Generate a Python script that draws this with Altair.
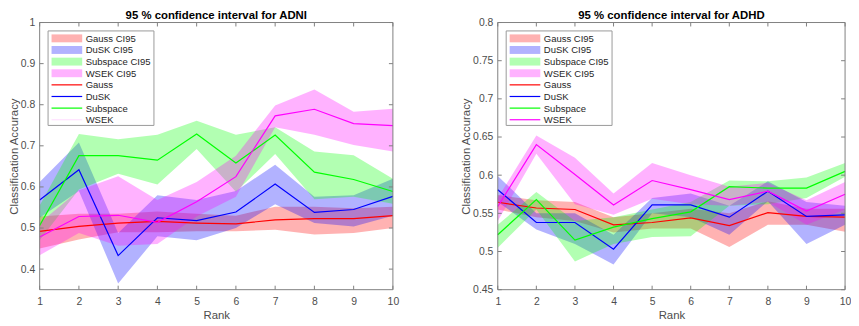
import altair as alt
import pandas as pd

ranks = [1, 2, 3, 4, 5, 6, 7, 8, 9, 10]
methods = ["Gauss", "DuSK", "Subspace", "WSEK"]
colors = ["#ff0000", "#0000ff", "#00ff00", "#ff00ff"]
band_labels = ["Gauss CI95", "DuSK CI95", "Subspace CI95", "WSEK CI95"]

# ---- ADNI ----
adni_gauss_mean = [0.492, 0.504, 0.512, 0.516, 0.512, 0.510, 0.520, 0.523, 0.523, 0.530]
adni_gauss_lo = [0.450, 0.472, 0.490, 0.490, 0.492, 0.492, 0.496, 0.484, 0.488, 0.500]
adni_gauss_hi = [0.528, 0.535, 0.535, 0.540, 0.535, 0.530, 0.552, 0.552, 0.548, 0.552]
adni_dusk_mean = [0.568, 0.642, 0.433, 0.525, 0.518, 0.539, 0.607, 0.538, 0.545, 0.577]
adni_dusk_lo = [0.525, 0.590, 0.365, 0.480, 0.470, 0.500, 0.558, 0.512, 0.504, 0.530]
adni_dusk_hi = [0.612, 0.708, 0.488, 0.580, 0.568, 0.590, 0.654, 0.576, 0.580, 0.620]
adni_sub_mean = [0.506, 0.676, 0.676, 0.665, 0.729, 0.658, 0.726, 0.636, 0.618, 0.589]
adni_sub_lo = [0.470, 0.594, 0.632, 0.606, 0.692, 0.588, 0.680, 0.570, 0.576, 0.559]
adni_sub_hi = [0.555, 0.729, 0.716, 0.727, 0.761, 0.727, 0.745, 0.686, 0.677, 0.620]
adni_wsek_mean = [0.478, 0.528, 0.531, 0.514, 0.564, 0.625, 0.773, 0.789, 0.754, 0.749]
adni_wsek_lo = [0.434, 0.488, 0.457, 0.461, 0.528, 0.576, 0.745, 0.727, 0.702, 0.686]
adni_wsek_hi = [0.512, 0.592, 0.626, 0.568, 0.612, 0.676, 0.798, 0.837, 0.783, 0.790]

# ---- ADHD ----
adhd_gauss_mean = [0.5645, 0.557, 0.555, 0.535, 0.538, 0.544, 0.534, 0.551, 0.546, 0.545]
adhd_gauss_lo = [0.555, 0.545, 0.540, 0.525, 0.530, 0.530, 0.506, 0.535, 0.535, 0.526]
adhd_gauss_hi = [0.574, 0.567, 0.565, 0.545, 0.550, 0.556, 0.550, 0.566, 0.556, 0.556]
adhd_dusk_mean = [0.581, 0.538, 0.538, 0.503, 0.561, 0.561, 0.545, 0.579, 0.546, 0.548]
adhd_dusk_lo = [0.565, 0.529, 0.510, 0.483, 0.550, 0.545, 0.522, 0.566, 0.510, 0.535]
adhd_dusk_hi = [0.599, 0.550, 0.550, 0.522, 0.570, 0.576, 0.560, 0.592, 0.565, 0.560]
adhd_sub_mean = [0.522, 0.568, 0.515, 0.532, 0.543, 0.552, 0.585, 0.583, 0.583, 0.605]
adhd_sub_lo = [0.505, 0.555, 0.487, 0.510, 0.519, 0.520, 0.560, 0.562, 0.570, 0.598]
adhd_sub_hi = [0.535, 0.578, 0.540, 0.545, 0.555, 0.565, 0.593, 0.592, 0.597, 0.616]
adhd_wsek_mean = [0.559, 0.640, 0.601, 0.561, 0.593, 0.581, 0.568, 0.579, 0.553, 0.575]
adhd_wsek_lo = [0.540, 0.628, 0.562, 0.548, 0.569, 0.562, 0.560, 0.565, 0.535, 0.555]
adhd_wsek_hi = [0.570, 0.652, 0.623, 0.576, 0.616, 0.600, 0.585, 0.590, 0.567, 0.591]

adni_yticks = [0.4, 0.5, 0.6, 0.7, 0.8, 0.9, 1.0]
adhd_yticks = [0.45, 0.5, 0.55, 0.6, 0.65, 0.7, 0.75, 0.8]

FONT = "Liberation Sans"
GRAY = "#808080"


def make_df(means, los, his):
    rows = []
    for m, mean, lo, hi in zip(methods, means, los, his):
        for r, a, b, c in zip(ranks, mean, lo, hi):
            rows.append({"rank": r, "method": m, "mean": a, "lo": b, "hi": c})
    return pd.DataFrame(rows)


def one():
    return pd.DataFrame({"k": [0]})


def panel(df, title, ydomain, yticks, W, H, faint_last):
    cscale = alt.Scale(domain=methods, range=colors)
    xs = alt.Scale(domain=[1, 10], nice=False, zero=False)
    ys = alt.Scale(domain=ydomain, nice=False, zero=False)
    xaxis = alt.Axis(values=ranks, labelFlush=False, title="Rank", domain=False,
                     ticks=False, grid=False, labelPadding=7, titlePadding=3)
    yaxis = alt.Axis(values=yticks, format=".2~f", title="Classification Accuracy",
                     domain=False, ticks=False, grid=False, labelPadding=5,
                     titlePadding=1)

    bands = alt.Chart(df).mark_area(opacity=0.3, orient="vertical").encode(
        x=alt.X("rank:Q", scale=xs, axis=xaxis),
        y=alt.Y("lo:Q", scale=ys, axis=yaxis),
        y2="hi:Q",
        color=alt.Color("method:N", scale=cscale, legend=None),
    )
    lines = alt.Chart(df).mark_line(strokeWidth=1.2).encode(
        x=alt.X("rank:Q", scale=xs, axis=xaxis),
        y=alt.Y("mean:Q", scale=ys, axis=yaxis),
        color=alt.Color("method:N", scale=cscale, legend=None),
    )
    ydf = pd.DataFrame({"v": yticks})
    xdf = pd.DataFrame({"v": ranks})
    tl = alt.Chart(ydf).mark_rule(color=GRAY).encode(
        y=alt.Y("v:Q", scale=ys, axis=yaxis), x=alt.value(0), x2=alt.value(4))
    tr = alt.Chart(ydf).mark_rule(color=GRAY).encode(
        y=alt.Y("v:Q", scale=ys, axis=yaxis), x=alt.value(W - 4), x2=alt.value(W))
    tt = alt.Chart(xdf).mark_rule(color=GRAY).encode(
        x=alt.X("v:Q", scale=xs, axis=xaxis), y=alt.value(0), y2=alt.value(4))
    tb = alt.Chart(xdf).mark_rule(color=GRAY).encode(
        x=alt.X("v:Q", scale=xs, axis=xaxis), y=alt.value(H - 4), y2=alt.value(H))
    frame = alt.Chart(one()).mark_rect(fill="white", fillOpacity=0, stroke=GRAY,
                                       strokeWidth=1).encode(
        x=alt.value(0), x2=alt.value(W), y=alt.value(0), y2=alt.value(H))
    ttl = alt.Chart(pd.DataFrame({"t": [title]})).mark_text(
        align="center", baseline="alphabetic", font=FONT, fontSize=11.5,
        fontWeight="bold", color="#000000").encode(
        x=alt.value(W / 2), y=alt.value(-3.8), text="t:N")

    layers = [bands, lines, tl, tr, tt, tb, frame, ttl]

    # legend
    bx0, bx1 = 8.5, 115.5
    by0, by1 = 8.5, 104
    layers.append(alt.Chart(one()).mark_rect(fill="white", stroke="#9a9a9a",
                                             strokeWidth=1).encode(
        x=alt.value(bx0), x2=alt.value(bx1), y=alt.value(by0), y2=alt.value(by1)))
    labels = band_labels + methods
    for i, lab in enumerate(labels):
        cy = 16 + 11.75 * i
        col = colors[i % 4]
        if i < 4:
            layers.append(alt.Chart(one()).mark_rect(color=col, opacity=0.3).encode(
                x=alt.value(12), x2=alt.value(43), y=alt.value(cy - 4), y2=alt.value(cy + 4)))
        else:
            op = 0.12 if (faint_last and i == 7) else 1.0
            layers.append(alt.Chart(one()).mark_rule(color=col, strokeWidth=1.2,
                                                     opacity=op).encode(
                x=alt.value(12), x2=alt.value(43), y=alt.value(cy)))
        layers.append(alt.Chart(pd.DataFrame({"t": [lab]})).mark_text(
            align="left", baseline="middle", font=FONT, fontSize=9.6,
            color="#262626").encode(x=alt.value(46.5), y=alt.value(cy + 0.5), text="t:N"))

    return alt.layer(*layers).properties(width=W, height=H)


adni_df = make_df(
    [adni_gauss_mean, adni_dusk_mean, adni_sub_mean, adni_wsek_mean],
    [adni_gauss_lo, adni_dusk_lo, adni_sub_lo, adni_wsek_lo],
    [adni_gauss_hi, adni_dusk_hi, adni_sub_hi, adni_wsek_hi],
)
adhd_df = make_df(
    [adhd_gauss_mean, adhd_dusk_mean, adhd_sub_mean, adhd_wsek_mean],
    [adhd_gauss_lo, adhd_dusk_lo, adhd_sub_lo, adhd_wsek_lo],
    [adhd_gauss_hi, adhd_dusk_hi, adhd_sub_hi, adhd_wsek_hi],
)

left = panel(adni_df, "95 % confidence interval for ADNI", [0.35, 1.0], adni_yticks,
             357, 270, True)
right = panel(adhd_df, "95 % confidence interval for ADHD", [0.45, 0.8], adhd_yticks,
              351, 270, False)

chart = alt.hconcat(left, right, spacing=62).properties(
    padding={"left": 0, "top": 0, "right": 0, "bottom": 0}
).configure_view(stroke=None).configure_axis(
    labelFont=FONT, labelFontSize=10.5, labelColor="#4d4d4d",
    titleFont=FONT, titleFontSize=11.5, titleColor="#4d4d4d", titleFontWeight="normal",
)

chart.save("out.html", embed_options={"renderer": "svg", "actions": False})
